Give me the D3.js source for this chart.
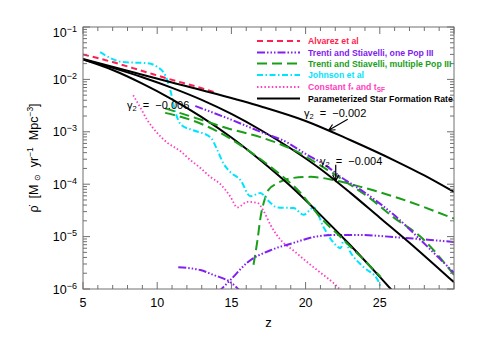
<!DOCTYPE html>
<html>
<head>
<meta charset="utf-8">
<script src="https://cdnjs.cloudflare.com/ajax/libs/d3/7.8.5/d3.min.js"></script>
<style>
  body { margin: 0; background: #fff; }
  text { font-family: "Liberation Sans", Arial, sans-serif; }
</style>
</head>
<body>
<div id="chart"></div>
<script>
// values: [z, rho_dot] in M_sun / yr / Mpc^3
var alvarez = [[5, 3.0e-2], [7, 2.14e-2], [9, 1.45e-2], [11, 9.8e-3], [13, 6.8e-3], [13.8, 5.75e-3]];

var trentiOneUpper = [[12.57, 3.1e-3], [14.73, 1.82e-3], [16.96, 1.0e-3], [18.78, 6.2e-4], [19.86, 4.0e-4],
  [21.49, 2.14e-4], [22.36, 1.38e-4], [23.72, 7.8e-5], [25.95, 2.6e-5], [28.24, 6.3e-6], [30, 2.04e-6]];
var trentiOneFalling = [[11.42, 2.6e-6], [12.91, 2.3e-6], [13.78, 1.86e-6], [14.93, 1.35e-6], [15.61, 9.1e-7]];
var trentiOneRising = [[14.12, 8.7e-7], [14.93, 1.48e-6], [16.08, 3.2e-6], [17.64, 5.5e-6], [19.19, 7.6e-6],
  [20.54, 9.8e-6], [21.89, 1.07e-5], [23.72, 1.07e-5], [25.95, 9.8e-6], [28.24, 8.7e-6], [30, 7.9e-6]];

var trentiMultiA = [[10.54, 2.8e-3], [12.43, 1.9e-3], [14.73, 1.17e-3], [16.96, 7.9e-4], [19.19, 4.5e-4],
  [21.49, 1.86e-4], [22.84, 1.05e-4], [24.19, 5.8e-5], [25.95, 2.3e-5], [27.77, 9.8e-6], [30, 1.86e-6]];
var trentiMultiB = [[10.54, 2.3e-3], [12.23, 1.7e-3], [14.26, 9.5e-4], [15.81, 5.1e-4], [17.64, 2.14e-4],
  [19.66, 6.8e-5], [21.01, 2.3e-5], [22.36, 9.8e-6], [23.72, 4.1e-6], [25.07, 1.7e-6]];
var trentiMultiC = [[16.49, 2.9e-6], [16.76, 8.7e-6], [16.96, 2.3e-5], [17.23, 5.0e-5], [17.5, 7.8e-5],
  [18.11, 1.05e-4], [19.19, 1.32e-4], [20.34, 1.38e-4], [21.89, 1.2e-4], [23.72, 8.9e-5], [25.95, 5.8e-5], [30, 2.2e-5]];

var johnson = [[6.15, 3.3e-2], [7.7, 2.14e-2], [9.32, 2.04e-2], [9.99, 1.74e-2], [10.54, 1.2e-2], [10.88, 6.3e-3],
  [11.22, 2.4e-3], [11.62, 1.35e-3], [12.43, 1.07e-3], [13.58, 7.9e-4], [14.05, 4.5e-4], [14.46, 2.5e-4],
  [14.93, 1.7e-4], [15.61, 1.2e-4], [16.28, 5.9e-5], [16.96, 6.8e-5], [17.43, 5.0e-5], [18.11, 3.6e-5],
  [19.19, 3.5e-5], [19.86, 2.6e-5], [20.54, 3.6e-5], [21.22, 1.5e-5], [21.89, 7.6e-6], [22.36, 6.0e-6],
  [22.57, 8.7e-6], [23.04, 4.9e-6], [23.92, 2.6e-6], [24.86, 1.48e-6], [25.07, 1.05e-6]];

var constantF = [[8.38, 5.0e-3], [8.85, 2.95e-3], [9.32, 1.7e-3], [10.0, 9.5e-4], [10.68, 6.2e-4], [11.55, 4.3e-4],
  [12.23, 2.9e-4], [12.91, 2.04e-4], [13.58, 1.38e-4], [14.26, 1.0e-4], [14.93, 5.8e-5], [15.41, 3.6e-5],
  [16.08, 4.6e-5], [16.76, 4.4e-5], [17.16, 3.1e-5], [17.64, 1.66e-5], [18.31, 8.7e-6], [19.19, 5.4e-6],
  [20.14, 3.2e-6], [21.01, 2.04e-6], [21.89, 1.29e-6], [22.36, 9.5e-7]];

// parameterized SFR for three values of gamma_2
var sfr002 = [[5, 2.45e-2], [8, 1.46e-2], [11, 8.7e-3], [14, 5.26e-3], [17, 3.04e-3], [20, 1.61e-3],
  [23, 6.98e-4], [26, 2.83e-4], [28, 1.47e-4], [30, 7.1e-5]];
var sfr004 = [[5, 2.4e-2], [7, 1.66e-2], [9, 1.1e-2], [11, 6.9e-3], [13, 4.07e-3], [15, 2.19e-3], [17, 1.07e-3],
  [19, 4.8e-4], [21, 1.95e-4], [23, 6.9e-5], [25, 2.29e-5], [27, 7.6e-6], [29, 2.4e-6], [30, 1.35e-6]];
var sfr006 = [[5, 2.4e-2], [7, 1.51e-2], [9, 8.3e-3], [11, 4.17e-3], [13, 1.91e-3], [15, 7.8e-4], [17, 2.8e-4],
  [19, 9.1e-5], [21, 2.6e-5], [23, 6.9e-6], [25, 1.7e-6], [26, 8.3e-7]];

var xMajor = [5, 10, 15, 20, 25, 30];
var xLabels = ["5", "10", "15", "20", "25", ""];
var yMajor = [1e-6, 1e-5, 1e-4, 1e-3, 1e-2, 1e-1];
var yExps = ["\u22126", "\u22125", "\u22124", "\u22123", "\u22122", "\u22121"];

var styles = {
  alvarez:  {color: "#ff1f50", dash: "6,4", width: 2},
  trOne:    {color: "#8020f0", dash: "8,2,1.5,2,1.5,2,1.5,2", width: 2},
  trMulti:  {color: "#1a9e1a", dash: "10,5", width: 2},
  johnson:  {color: "#00e5ff", dash: "6,2.5,1.5,2.5", width: 2},
  constF:   {color: "#ff3ec0", dash: "1.5,2.2", width: 1.8},
  sfr:      {color: "#000", dash: null, width: 2}
};

var w = 480, h = 343;
var pLeft = 83, pRight = 454, pTop = 27, pBottom = 289;

var svg = d3.select("#chart").append("svg")
  .attr("width", w)
  .attr("height", h);

var x = d3.scaleLinear().domain([5, 30]).range([pLeft, pRight]);
var y = d3.scaleLog().domain([1e-6, 1e-1]).range([pBottom, pTop]);

svg.append("clipPath").attr("id", "plotclip")
  .append("rect").attr("x", pLeft).attr("y", pTop)
  .attr("width", pRight - pLeft).attr("height", pBottom - pTop);

var line = d3.line()
  .x(function(d) { return x(d[0]); })
  .y(function(d) { return y(d[1]); })
  .curve(d3.curveMonotoneX);

var curves = [
  {data: trentiMultiC, s: styles.trMulti},
  {data: constantF, s: styles.constF},
  {data: johnson, s: styles.johnson},
  {data: trentiOneFalling, s: styles.trOne},
  {data: trentiOneRising, s: styles.trOne},
  {data: alvarez, s: styles.alvarez},
  {data: sfr002, s: styles.sfr},
  {data: sfr004, s: styles.sfr},
  {data: sfr006, s: styles.sfr},
  {data: trentiMultiB, s: styles.trMulti},
  {data: trentiMultiA, s: styles.trMulti},
  {data: trentiOneUpper, s: styles.trOne}
];

svg.append("g").attr("clip-path", "url(#plotclip)")
  .selectAll("path")
  .data(curves)
  .enter().append("path")
  .attr("d", function(d) { return line(d.data); })
  .attr("fill", "none")
  .attr("stroke", function(d) { return d.s.color; })
  .attr("stroke-width", function(d) { return d.s.width; })
  .attr("stroke-dasharray", function(d) { return d.s.dash; });

// frame + ticks (all inward)
var axisColor = "#707070";
svg.append("rect")
  .attr("x", pLeft).attr("y", pTop)
  .attr("width", pRight - pLeft).attr("height", pBottom - pTop)
  .attr("fill", "none").attr("stroke", axisColor).attr("stroke-width", 1);

var xMinor = d3.range(5, 31).filter(function(v) { return v % 5 != 0; });
var ticks = svg.append("g").attr("stroke", axisColor).attr("stroke-width", 1);
xMinor.forEach(function(v) {
  ticks.append("line").attr("x1", x(v)).attr("x2", x(v)).attr("y1", pBottom).attr("y2", pBottom - 4);
  ticks.append("line").attr("x1", x(v)).attr("x2", x(v)).attr("y1", pTop).attr("y2", pTop + 4);
});
xMajor.forEach(function(v) {
  ticks.append("line").attr("x1", x(v)).attr("x2", x(v)).attr("y1", pBottom).attr("y2", pBottom - 7);
  ticks.append("line").attr("x1", x(v)).attr("x2", x(v)).attr("y1", pTop).attr("y2", pTop + 7);
});
yMajor.forEach(function(v, i) {
  ticks.append("line").attr("x1", pLeft).attr("x2", pLeft + 7).attr("y1", y(v)).attr("y2", y(v));
  ticks.append("line").attr("x1", pRight).attr("x2", pRight - 7).attr("y1", y(v)).attr("y2", y(v));
  if (i < yMajor.length - 1) {
    for (var k = 2; k < 10; k++) {
      var yy = y(v * k);
      ticks.append("line").attr("x1", pLeft).attr("x2", pLeft + 4).attr("y1", yy).attr("y2", yy);
      ticks.append("line").attr("x1", pRight).attr("x2", pRight - 4).attr("y1", yy).attr("y2", yy);
    }
  }
});

// tick labels
svg.append("g").selectAll("text")
  .data(xMajor)
  .enter().append("text")
  .attr("x", function(d) { return x(d); })
  .attr("y", 307)
  .attr("text-anchor", "middle")
  .attr("font-size", 12.5)
  .text(function(d, i) { return xLabels[i]; });

var yl = svg.append("g").selectAll("text")
  .data(yMajor)
  .enter().append("text")
  .attr("x", 77)
  .attr("y", function(d, i) { return i == yMajor.length - 1 ? y(d) + 9.5 : y(d) + 4.5; })
  .attr("text-anchor", "end")
  .attr("font-size", 12.5);
yl.append("tspan").text("10");
yl.append("tspan").attr("font-size", 9).attr("dy", -5).text(function(d, i) { return yExps[i]; });

// axis titles
svg.append("text")
  .attr("x", x(17.5)).attr("y", 327)
  .attr("text-anchor", "middle").attr("font-size", 13)
  .text("z");

var yt = svg.append("text")
  .attr("transform", "translate(38," + ((pTop + pBottom) / 2) + ") rotate(-90)")
  .attr("text-anchor", "middle")
  .attr("font-size", 12.5)
  .attr("xml:space", "preserve")
  .style("white-space", "pre");
yt.append("tspan").text("\u03C1\u0307  [M ");
yt.append("tspan").attr("font-size", 8).attr("dy", 2).text("\u2299");
yt.append("tspan").attr("dy", -2).text("  yr");
yt.append("tspan").attr("font-size", 8.5).attr("dy", -5).text("\u22121");
yt.append("tspan").attr("dy", 5).text("  Mpc");
yt.append("tspan").attr("font-size", 8.5).attr("dy", -5).text("\u22123");
yt.append("tspan").attr("dy", 5).text("]");

// legend
var legendItems = [
  {s: styles.alvarez, parts: [["Alvarez et al", 0]]},
  {s: styles.trOne, parts: [["Trenti and Stiavelli, one Pop III", 0]]},
  {s: styles.trMulti, parts: [["Trenti and Stiavelli, multiple Pop III", 0]]},
  {s: styles.johnson, parts: [["Johnson et al", 0]]},
  {s: styles.constF, parts: [["Constant f", 0], ["*", 1], [" and t", 0], ["SF", 1]]},
  {s: styles.sfr, parts: [["Parameterized Star Formation Rate", 0]]}
];
var legendY = [41, 52.5, 63.5, 75, 87, 98.5];

var lg = svg.append("g");
legendItems.forEach(function(item, i) {
  lg.append("line")
    .attr("x1", 257).attr("x2", 300)
    .attr("y1", legendY[i]).attr("y2", legendY[i])
    .attr("stroke", item.s.color)
    .attr("stroke-width", item.s.width)
    .attr("stroke-dasharray", item.s.dash);
  var t = lg.append("text")
    .attr("x", 308).attr("y", legendY[i] + 3)
    .attr("font-size", 8.7).attr("font-weight", "bold")
    .attr("fill", item.s.color)
    .attr("xml:space", "preserve").style("white-space", "pre");
  var sub = 0;
  item.parts.forEach(function(p) {
    var ts = t.append("tspan").text(p[0]);
    if (p[1] && !sub) { ts.attr("dy", 2).attr("font-size", 6.5); sub = 1; }
    else if (!p[1] && sub) { ts.attr("dy", -2); sub = 0; }
    else if (p[1]) { ts.attr("font-size", 6.5); }
  });
});

// gamma_2 annotations
function gammaLabel(px, py, val) {
  var t = svg.append("text")
    .attr("x", px).attr("y", py)
    .attr("font-size", 11)
    .attr("xml:space", "preserve").style("white-space", "pre");
  t.append("tspan").text("\u03B3");
  t.append("tspan").attr("font-size", 7.5).attr("dy", 2).text("2");
  t.append("tspan").attr("dy", -2).text("  =  \u2212" + val);
}
gammaLabel(127, 109, "0.006");
gammaLabel(304, 117, "0.002");
gammaLabel(320, 165, "0.004");

function arrow(x0, y0, x1, y1) {
  var a = Math.atan2(y1 - y0, x1 - x0), L = 7, sp = 0.45;
  svg.append("path")
    .attr("d", "M" + x0 + "," + y0 + "L" + x1 + "," + y1 +
      "M" + (x1 - L * Math.cos(a - sp)) + "," + (y1 - L * Math.sin(a - sp)) +
      "L" + x1 + "," + y1 +
      "L" + (x1 - L * Math.cos(a + sp)) + "," + (y1 - L * Math.sin(a + sp)))
    .attr("fill", "none").attr("stroke", "#000").attr("stroke-width", 1.2);
}
arrow(x(22.84), y(1.74e-3), x(21.55), y(1.07e-3));
arrow(x(22.03), y(2.34e-4), x(22.03), y(1.15e-4));
</script>
</body>
</html>
